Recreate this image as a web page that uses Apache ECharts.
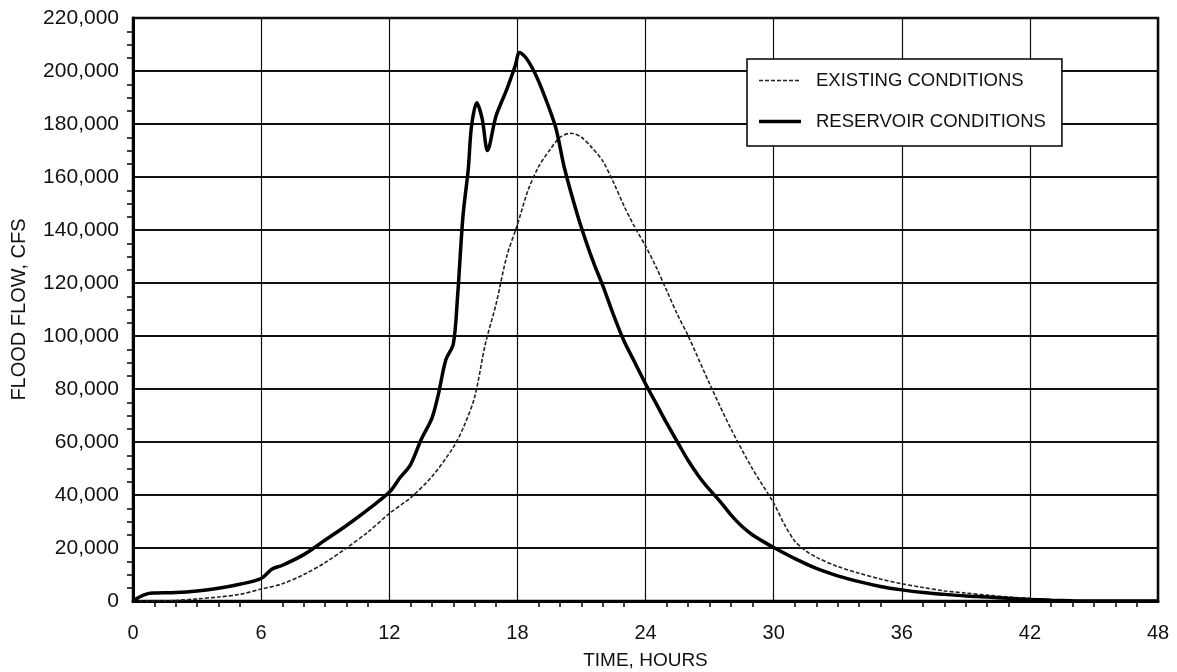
<!DOCTYPE html>
<html>
<head>
<meta charset="utf-8">
<script src="https://cdn.jsdelivr.net/npm/echarts@6/dist/echarts.min.js"></script>
<style>
html,body{margin:0;padding:0;background:#fff;}
#chart{width:1177px;height:672px;}
</style>
</head>
<body>
<div id="chart"></div>
<script>
var seriesNames = ['EXISTING CONDITIONS', 'RESERVOIR CONDITIONS'];
var xAxisName = 'TIME, HOURS';
var yAxisName = 'FLOOD FLOW, CFS';

var existingHours = [0,1,2,3,4,5,6,7,8,9,10,11,12,13,14,15,15.5,16,16.5,17,17.5,18,18.5,19,19.5,20,20.5,21,21.5,22,22.5,23,23.5,24,24.5,25,25.5,26,27,28,29,30,30.5,31,31.5,32,33,34,35,36,37,38,39,40,41,42,43,44,45,48];
var existingFlow = [0,0,200,800,1500,2500,4500,6500,10000,14500,20000,26000,33000,39000,47000,58000,66000,77000,97000,112000,130000,142000,155000,164000,170000,175000,176500,175000,171000,166000,158000,149000,141000,134000,126000,117000,108000,100000,82000,65000,50000,37000,29000,22500,19000,16500,13000,10500,8300,6500,5100,3800,3000,2200,1500,1000,500,200,0,0];

var reservoirHours = [0,0.3,0.7,1,2,3,4,5,6,6.5,7,8,9,10,11,12,12.5,13,13.5,14,14.3,14.65,15,15.2,15.45,15.7,15.85,16.1,16.35,16.6,17,17.5,17.9,18.1,18.4,18.8,19.25,19.8,20.2,20.8,21.2,21.6,22,22.5,23,23.5,24,24.5,25,25.6,26,26.5,27,27.5,28,28.5,29,29.5,30,31,32,33,34,35,36,37,38,39,40,41,42,43,44,45,48];
var reservoirFlow = [0,1500,2800,3000,3200,3800,4800,6300,8500,12000,13500,17500,23000,28500,34500,41000,46500,51500,61000,69000,78000,91000,97000,115000,145000,163000,179000,188000,182000,170000,183000,193000,202000,207000,205000,199500,191000,178500,163500,146000,136000,127000,119000,108000,98000,90000,82000,74500,67000,58500,53000,47000,42000,37500,32500,28300,25000,22500,20200,16000,12300,9500,7300,5500,4200,3200,2500,1900,1500,1000,600,300,100,0,0];

function pairs(xs, ys){ return xs.map(function(x,i){ return [x, ys[i]]; }); }

// legend sample icons: dashed thin line and solid thick line
var dashedIcon = 'path://M0,0H4V1.5H0Z M6,0H10V1.5H6Z M12,0H16V1.5H12Z M18,0H22V1.5H18Z M24,0H28V1.5H24Z M30,0H34V1.5H30Z M36,0H40V1.5H36Z M42,0H42V1.5H42Z';
var solidIcon = 'path://M0,0H42V3.5H0Z';

var font = 'Liberation Sans, Arial, sans-serif';
var chart = echarts.init(document.getElementById('chart'));
chart.setOption({
  animation: false,
  backgroundColor: '#fff',
  grid: {left: 133, right: 19, top: 18, bottom: 71, outerBoundsMode: 'none', containLabel: false,
    show: true, borderColor: '#000', borderWidth: 2.5, backgroundColor: 'transparent'},
  legend: {
    orient: 'vertical', left: 747, top: 59,
    backgroundColor: '#fff', borderColor: '#000', borderWidth: 1.5,
    padding: [12, 16, 15, 12], itemGap: 22, itemWidth: 42, itemHeight: 14,
    symbolKeepAspect: true,
    textStyle: {fontFamily: font, fontSize: 18.5, color: '#111', padding: [0,0,0,10]},
    data: [{name: seriesNames[0], icon: dashedIcon}, {name: seriesNames[1], icon: solidIcon}]
  },
  xAxis: {
    type: 'value', min: 0, max: 48, interval: 6,
    name: xAxisName, nameLocation: 'middle', nameGap: 50,
    nameTextStyle: {fontFamily: font, fontSize: 19, color: '#111'},
    axisLine: {show: true, lineStyle: {color: '#000', width: 3}},
    axisTick: {show: false},
    minorTick: {show: true, splitNumber: 6, length: 6, lineStyle: {color: '#000', width: 1.5}},
    axisLabel: {fontFamily: font, fontSize: 20, color: '#111', margin: 22},
    splitLine: {show: true, lineStyle: {color: '#111', width: 1.2}},
    minorSplitLine: {show: false}
  },
  yAxis: {
    type: 'value', min: 0, max: 220000, interval: 20000,
    name: yAxisName, nameLocation: 'middle', nameGap: 104, nameRotate: 90,
    nameTextStyle: {fontFamily: font, fontSize: 20, color: '#111'},
    axisLine: {show: true, lineStyle: {color: '#000', width: 3}},
    axisTick: {show: false},
    minorTick: {show: true, splitNumber: 4, length: 6, lineStyle: {color: '#000', width: 1.5}},
    axisLabel: {fontFamily: font, fontSize: 21, color: '#111', margin: 14,
      formatter: function(v){ return v.toLocaleString('en-US'); }},
    splitLine: {show: true, lineStyle: {color: '#111', width: 1.8}}
  },
  series: [
    {name: seriesNames[0], type: 'line', data: pairs(existingHours, existingFlow), showSymbol: false, symbol: 'none',
     smooth: 0.3, lineStyle: {color: '#222', width: 1.6, type: [4, 2]}, itemStyle: {color: '#222'}, z: 3},
    {name: seriesNames[1], type: 'line', data: pairs(reservoirHours, reservoirFlow), showSymbol: false, symbol: 'none',
     smooth: 0.3, lineStyle: {color: '#000', width: 3.5}, itemStyle: {color: '#000'}, z: 4}
  ]
});
</script>
</body>
</html>
